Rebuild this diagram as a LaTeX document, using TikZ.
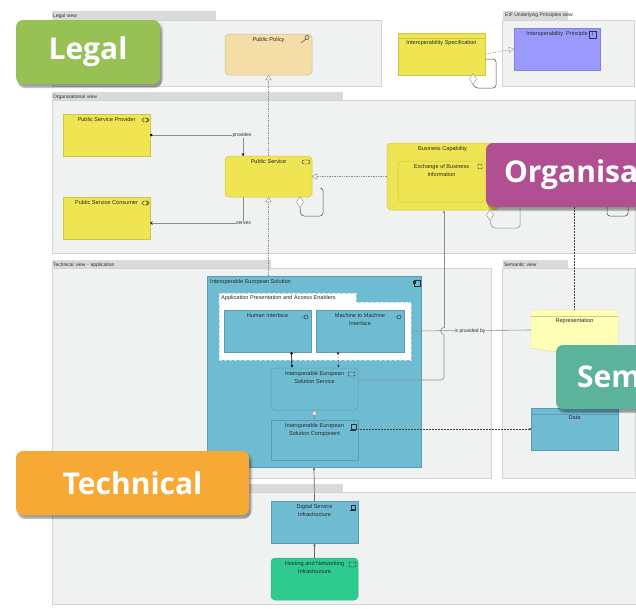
\documentclass[tikz,border=0pt]{standalone}
\usepackage{fontspec}
\setmainfont{Liberation Sans}
\newfontfamily\badgefont{Open Sans}
\usetikzlibrary{arrows.meta,calc,shadows,shapes.misc,shapes.geometric}
\definecolor{panelc}{HTML}{F0F2F2}
\definecolor{panelb}{HTML}{D2D4D4}
\definecolor{tabc}{HTML}{D9DBDB}
\definecolor{yel}{HTML}{EFE552}
\definecolor{yelb}{HTML}{CFC54A}
\definecolor{pol}{HTML}{F5DDA8}
\definecolor{blu}{HTML}{6FBCD2}
\definecolor{blub}{HTML}{5A9DB3}
\definecolor{vio}{HTML}{9999FF}
\definecolor{grn}{HTML}{2ECB90}
\definecolor{memo}{HTML}{FFFFB5}
\definecolor{txt}{HTML}{2A2A2A}
\definecolor{conn}{HTML}{8C8E8E}
\tikzset{
 x=1pt,y=-1pt,
 panel/.style={draw=panelb,fill=panelc,line width=.6pt},
 tabbox/.style={anchor=north west,fill=tabc,inner sep=0pt,outer sep=0pt,minimum height=9pt,
   font=\fontsize{5}{6}\selectfont,text=txt,align=left,text depth=0pt},
 box/.style={anchor=north west,inner sep=0pt,outer sep=0pt,line width=.5pt},
 lbl/.style={font=\fontsize{5.6}{7.3}\selectfont,text=txt,align=center,inner sep=3.5pt},
 yb/.style={box,fill=yel,draw=yelb,minimum width=87pt,minimum height=42pt},
 bb/.style={box,fill=blu,draw=blub,minimum width=87pt,minimum height=42pt},
 round/.style={rounded corners=4pt},
 conlbl/.style={font=\fontsize{5}{6}\selectfont,text=txt,inner sep=.5pt},
 gline/.style={draw=conn,line width=.6pt},
 dline/.style={draw=conn,line width=.7pt,densely dotted},
 kline/.style={draw=black!75,line width=.5pt,densely dotted},
 real/.style={-{Triangle[open,fill=white,length=5pt,width=6pt,line width=.4pt]}},
 tri/.style={-{Latex[length=3pt,width=2.6pt]}},
 diam/.style={draw=conn,fill=white,line width=.4pt,diamond,aspect=1,inner sep=0pt,outer sep=0pt,minimum width=7pt,minimum height=11pt},
 badge/.style={anchor=north west,rounded corners=7pt,minimum height=64pt,inner sep=0pt,outer sep=0pt,
   text=white,font=\badgefont\bfseries\fontsize{30}{36}\selectfont,
   general shadow={shadow xshift=3.5pt,shadow yshift=-1.5pt,fill=black,opacity=.07},
   general shadow={shadow xshift=2.5pt,shadow yshift=-3pt,fill=black,opacity=.14},
   general shadow={shadow xshift=1.5pt,shadow yshift=-4pt,fill=black,opacity=.22}},
 icon/.style={draw=black!80,line width=.45pt},
}
\begin{document}
\begin{tikzpicture}
\clip (0,0) rectangle (636,608);
\fill[white] (0,0) rectangle (636,608);
% panels
\node[tabbox,minimum width=164pt,text width=162pt,inner xsep=1pt] (tabLegal) at (52,11) {Legal view};
\draw[panel] (52,20) rectangle (381,86);
\node[tabbox,minimum width=65pt] (tabEif) at (503,11) {};
\node[font=\fontsize{5}{6}\selectfont,text=txt,anchor=west,inner sep=0pt] (tabEifT) at (505,15.5) {EIF Underlying Principles view};
\draw[panel] (502,20) rectangle (634,86);
\node[tabbox,minimum width=291pt,text width=289pt,inner xsep=1pt] (tabOrg) at (52,92) {Organisational view};
\draw[panel] (52,100) rectangle (635,253);
\node[tabbox,minimum width=219pt,text width=217pt,inner xsep=1pt] (tabTech) at (52,260) {Technical view - application};
\draw[panel] (52,268) rectangle (491,478);
\node[tabbox,minimum width=65pt,text width=63pt,inner xsep=1pt] (tabSem) at (503,260) {Semantic view};
\draw[panel] (502,268) rectangle (635,478);
\node[tabbox,minimum width=291pt] (tabInf) at (52,484) {};
\draw[panel] (52,492) rectangle (636,604);
% nodes
\node[box,round,fill=pol,draw=pol!85!black,minimum width=87pt,minimum height=41pt,label={[lbl,anchor=north]north:Public Policy}] (policy) at (225,34) {};
\node[yb,label={[lbl,anchor=north]north:Public Service Provider}] (prov) at (63,114) {};
\node[yb,label={[lbl,anchor=north]north:Public Service Consumer}] (cons) at (63,197) {};
\node[yb,round,minimum height=41pt,label={[lbl,anchor=north]north:Public Service}] (svc) at (225,156) {};
\node[yb,round,minimum width=111pt,minimum height=67pt,label={[lbl,anchor=north]north:Business Capability}] (cap) at (387,143) {};
\node[box,round,fill=yel,draw=yelb,minimum width=87pt,minimum height=41pt,label={[lbl,anchor=north]north:Exchange of Business\\Information}] (exch) at (398,161) {};
\node[yb,minimum height=42pt] (spec) at (398,33) {};
\node[lbl,anchor=north] (specT) at ($(spec.north)+(0,4)$) {Interoperability Specification};
\draw[yelb,line width=.5pt] ($(spec.north west)+(0,5)$) -- ($(spec.north east)+(0,5)$);
\node[box,fill=vio,draw=vio!85!black,chamfered rectangle,chamfered rectangle xsep=4pt,chamfered rectangle ysep=4pt,minimum width=86pt,minimum height=42pt,label={[lbl,anchor=north]north:Interoperability\ \ Principle}] (princ) at (514,28) {};
\node[bb,minimum width=214pt,minimum height=191pt] (sol) at (207,276) {};
\node[lbl,anchor=west,inner sep=0pt] (solT) at (210,282) {Interoperable European Solution};
\node[box,fill=white,draw=blu!50!white,densely dashed,minimum width=137pt,minimum height=10pt] (apptab) at (219,293) {};
\node[box,fill=white,draw=blu!50!white,densely dashed,minimum width=192pt,minimum height=58pt] (app) at (219,302) {};
\fill[white] (219.4,300) rectangle (355.6,303);
\node[lbl,anchor=west,inner sep=0pt] (appT) at (221,298) {Application Presentation and Access Enablers};
\node[bb,label={[lbl,anchor=north]north:Human Interface}] (hi) at (224,310) {};
\node[bb,minimum width=88pt,label={[lbl,anchor=north]north:Machine to Machine\\Interface}] (m2m) at (316,310) {};
\node[bb,round,minimum height=42pt,label={[lbl,anchor=north]north:Interoperable European\\Solution Service}] (iess) at (271,368) {};
\node[bb,minimum height=40pt,label={[lbl,anchor=north]north:Interoperable European\\Solution Component}] (iesc) at (271,420) {};
\node[bb,label={[lbl,anchor=north]north:Digital Service\\Infrastructure}] (dsi) at (271,501) {};
\node[box,round,fill=grn,draw=grn!90!black,minimum width=87pt,minimum height=42pt,label={[lbl,anchor=north]north:Hosting and Networking\\Infrastructure}] (host) at (271,558) {};
% representation and data
\node[box,minimum width=87pt,minimum height=40pt] (rep) at (531,310) {};
\fill[memo,draw=memo!85!black,line width=.4pt] (rep.north west) -- (rep.north east) -- ($(rep.south east)+(0,2)$) -- ($(rep.south east)+(-30,2)$) .. controls ($(rep.south west)+(25,3)$) and ($(rep.south west)+(10,0)$) .. ($(rep.south west)+(0,-2)$) -- cycle;
\draw[memo!80!black,line width=.5pt] ($(rep.north west)+(0,6)$) -- ($(rep.north east)+(0,6)$);
\node[lbl,anchor=north] (repT) at ($(rep.north)+(0,4.5)$) {Representation};
\node[bb,minimum height=42pt] (data) at (531,408) {};
\node[lbl,anchor=north] (dataT) at ($(data.north)+(0,4)$) {Data};
\draw[blub,line width=.5pt] ($(data.north west)+(0,6)$) -- ($(data.north east)+(0,6)$);
% connectors
\draw[dline,real] (svc.north) -- (policy.south);
\draw[dline,real] (svc.south |- sol.north) -- (svc.south);
\draw[gline,{Circle[length=2.6pt,black]}-] (prov.east) -- ($(prov.east)+(93,0)$) coordinate (pv) -- (pv |- svc.north);
\fill[black] ($(pv |- svc.north)+(-1.5,-2.5)$) -- ++(3,0) -- ++(-1.5,2.5) -- cycle;
\node[conlbl,fill=panelc] (provL) at ($(pv)+(-1,0)$) {provides};
\draw[gline,-{Straight Barb[length=2pt,width=3pt,black]}] ($(svc.south)+(-25,0)$) -- ($(svc.south)+(-25,26)$) coordinate (sv) -- (sv -| cons.east);
\node[conlbl,fill=panelc] (servL) at (sv) {serves};
\draw[dline,real] (cap.west |- svc.east) -- (svc.east);
\draw[dline,real] (spec.east) -- (princ.west);
\node[diam] (d1) at (300,202) {};
\draw[black!70,line width=.5pt,rounded corners=3pt] (d1.south) -- (301,216) -- (323,216) -- (323,188) -- (320,188);
\node[diam] (d2) at (473,79) {};
\draw[black!70,line width=.5pt,rounded corners=3pt] (d2.south) -- (475,88) -- (496,88) -- (496,59) -- (spec.east |- 0,59);
\node[diam] (d3) at (490,215) {};
\draw[conn,line width=.5pt,rounded corners=3pt] (d3.south) -- (492,228) -- (520,228) -- (520,208);
\draw[black!70,line width=.5pt,rounded corners=3pt] (607,205) -- (607,216) -- (628,216) -- (628,205);
\coordinate (orgOut) at (574,205);
\draw[kline] (orgOut) -- (orgOut |- rep.north);
\draw[gline] (app.east) -- (rep.west);
\node[conlbl,fill=panelc] (isL) at (470,331) {is provided by};
\draw[gline,rounded corners=3pt] (iess.east |- 0,380) -- (444,380) -- (444,334.5);
\draw[gline] (444,334.5) arc[start angle=270,end angle=90,radius=3.5pt];
\draw[gline,tri] (444,327.5) -- (444,210);
\draw[kline,-{Circle[length=2pt,open]}] (iesc.east |- 0,429) -- (data.west |- 0,429);
\draw[black,line width=.7pt,{Circle[length=2.6pt]}-{Latex[length=3pt,width=2.6pt]}] ($(hi.south)+(24,0)$) -- ($(iess.north)+(-22.5,0)$);
\draw[kline,{Circle[length=2.6pt]}-{Latex[length=3pt,width=2.6pt]}] ($(m2m.south)+(-22,0)$) -- ($(iess.north)+(24,0)$);
\draw[gline,real] (iesc.north) -- (iess.south);
\draw[draw=black!60,line width=.7pt,tri] (dsi.north) -- (sol.south);
\draw[draw=black!60,line width=.7pt,tri] (host.north) -- (dsi.south);
% icons
\draw[icon,rounded corners=1.8pt] (142,118) rectangle (149,122);
\draw[icon] (145.5,118) arc[start angle=90,end angle=-90,radius=2pt];
\draw[icon,rounded corners=1.8pt] (142,201) rectangle (149,205);
\draw[icon] (145.5,201) arc[start angle=90,end angle=-90,radius=2pt];
\draw[icon,rounded corners=2pt] (302,160) rectangle (310,164);
\draw[icon] (301,43) -- (306,39);
\draw[icon] (307,37.5) circle[radius=2pt];
\draw[icon,rounded corners=1pt] (478,164) rectangle (482,169);
\draw[icon] (589.5,31) rectangle (596,38);
\node[lbl,inner sep=0pt] (exc) at (592.8,34.5) {!};
\draw[icon] (414,280) rectangle (420,286);
\draw[icon] (413,281.5) rectangle (415,283);
\draw[icon] (306,317) circle[radius=2pt] (304,317) -- (301,317);
\draw[icon] (399,317) circle[radius=2pt] (397,317) -- (394,317);
\draw[icon,rounded corners=1pt] (348,372) rectangle (355,376);
\draw[icon] (351,424) rectangle (356,429);
\draw[icon] (350,430) -- (356,430);
\draw[icon] (351,505) rectangle (355,509);
\draw[icon] (350,510.5) -- (356,510.5);
\draw[icon,rounded corners=1pt] (349,562) rectangle (356,567);
% badges
\node[badge,minimum width=144pt,fill={rgb,255:red,151;green,193;blue,85}] (legal) at (16,20) {Legal};
\node[badge,minimum width=233pt,fill={rgb,255:red,246;green,170;blue,53}] (tech) at (16,451) {Technical};
\node[badge,text width=140pt,align=left,inner xsep=18pt,fill={rgb,255:red,176;green,79;blue,146}] (org) at (486,143) {Organisa};
\node[badge,text width=90pt,align=left,inner xsep=21pt,fill={rgb,255:red,91;green,179;blue,155}] (sem) at (556,345) {Sem};
\end{tikzpicture}
\end{document}
